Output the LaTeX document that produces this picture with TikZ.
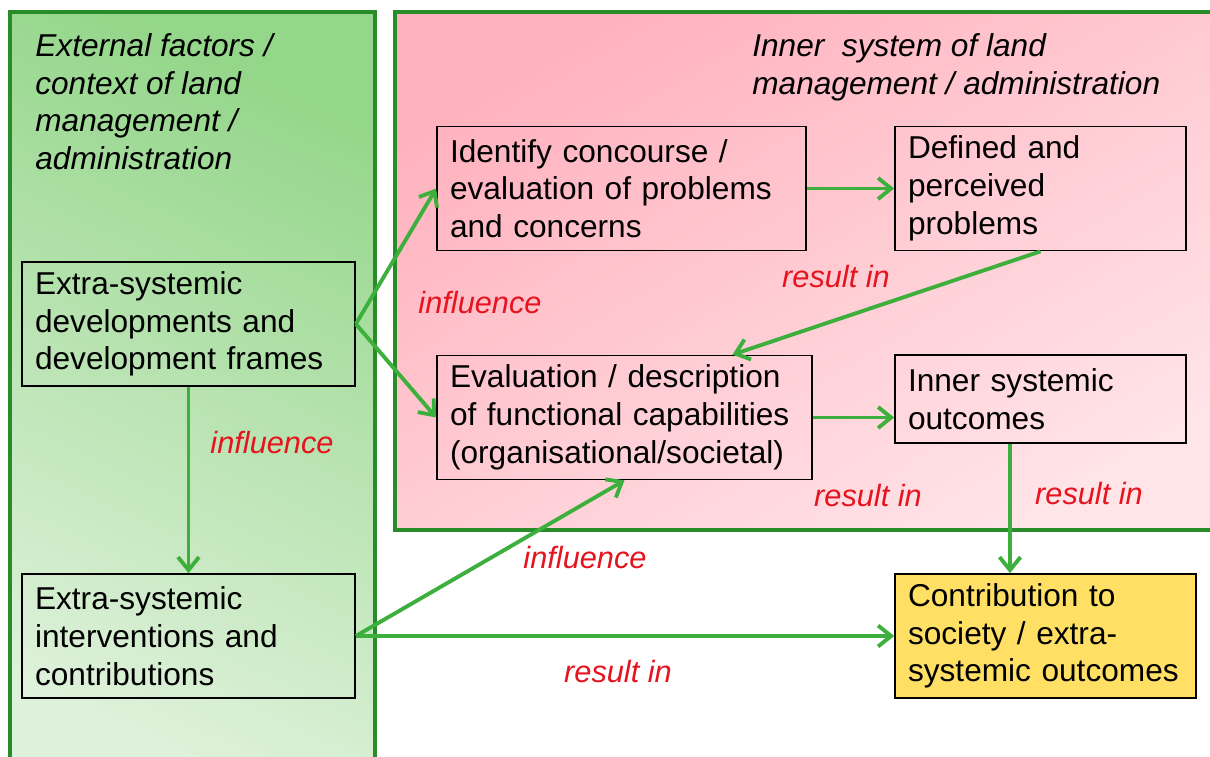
\documentclass[tikz,border=0pt]{standalone}
\usepackage{fontspec}
\setmainfont{Liberation Sans}
\usetikzlibrary{arrows.meta,positioning,calc}

\definecolor{panelgreen}{RGB}{40,140,40}
\definecolor{arrowgreen}{RGB}{60,175,60}
\definecolor{greentop}{RGB}{148,214,138}
\definecolor{greenbottom}{RGB}{222,241,218}
\definecolor{pinktop}{RGB}{255,178,190}
\definecolor{pinkbottom}{RGB}{255,228,232}
\definecolor{boxyellow}{RGB}{255,224,100}
\definecolor{labelred}{RGB}{230,20,30}

\tikzset{
  panel/.style={draw=panelgreen, line width=2.2pt},
  stepbox/.style={draw=black, line width=1pt, align=left, inner xsep=0.26cm,
    text width=#1, minimum height=2.48cm, font=\fontsize{18pt}{21.5pt}\selectfont},
  flow/.style={draw=arrowgreen, line width=2.2pt,
    -{Straight Barb[length=0.26cm,width=0.42cm,line width=2.2pt]}},
  relabel/.style={text=labelred, font=\fontsize{17.5pt}{21pt}\selectfont\itshape}
}

\begin{document}
\begin{tikzpicture}[x=0.02cm,y=-0.02cm]
            \clip (0,0) rectangle (1210,757);
            \fill[white] (0,0) rectangle (1210,757);

            \draw[panel, top color=greentop, bottom color=greenbottom, shading angle=-25] (10,12) rectangle (375,790);
            \draw[panel, top color=pinktop, bottom color=pinkbottom, shading angle=30] (395,12) rectangle (1240,530);

            \node[anchor=north west, inner sep=0pt, align=left, font=\fontsize{18pt}{21.5pt}\selectfont\itshape] (outertitle) at (35,33)
              {External factors /\\ context of land\\ management /\\ administration};
            \node[anchor=north west, inner sep=0pt, align=left, font=\fontsize{18pt}{21.5pt}\selectfont\itshape] (innertitle) at (752,33)
              {Inner~~system of land\\ management / administration};

            \node[stepbox=6.14cm] (frames) at (188.5,324) {Extra-systemic\\ developments and\\ development frames};
            \node[stepbox=6.14cm] (interv) at (188.5,636) {Extra-systemic\\ interventions and\\ contributions};
            \node[stepbox=6.86cm] (concourse) at (621.5,188.5) {Identify concourse /\\ evaluation of problems\\ and concerns};
            \node[stepbox=5.30cm] (problems) at (1040.5,188.5) {Defined and\\ perceived\\ problems};
            \node[stepbox=6.98cm] (capab) at (624.5,417.5) {Evaluation / description\\ of functional capabilities\\ (organisational/societal)};
            \node[stepbox=5.30cm, minimum height=1.76cm] (inneroutc) at (1040.5,399) {Inner systemic\\ outcomes};
            \node[stepbox=5.50cm, fill=boxyellow] (contrib) at (1045.5,636) {Contribution to\\ society / extra-\\ systemic outcomes};

            \draw[flow] (frames.east) -- (concourse.west);
            \draw[flow] (frames.east) -- (capab.west);
            \draw[flow] (frames.south) -- (interv.north);
            \draw[flow] (interv.east) -- (capab.south);
            \draw[flow] (interv.east) -- (contrib.west);
            \draw[flow] (concourse.east) -- (problems.west);
            \draw[flow] (problems.south) -- ([xshift=2.16cm]capab.north);
            \draw[flow] (capab.east) -- (capab.east -| inneroutc.west);
            \draw[flow] ([xshift=-0.61cm]inneroutc.south) -- ([xshift=-0.61cm]inneroutc.south |- contrib.north);

            \node[relabel] (infl1) at (480,303) {influence};
            \node[relabel] (infl2) at (272,443) {influence};
            \node[relabel] (infl3) at (585,558) {influence};
            \node[relabel] (res1) at (836,277) {result in};
            \node[relabel] (res2) at (868,496) {result in};
            \node[relabel] (res3) at (1089,494) {result in};
            \node[relabel] (res4) at (618,672) {result in};
         \end{tikzpicture}
\end{document}
